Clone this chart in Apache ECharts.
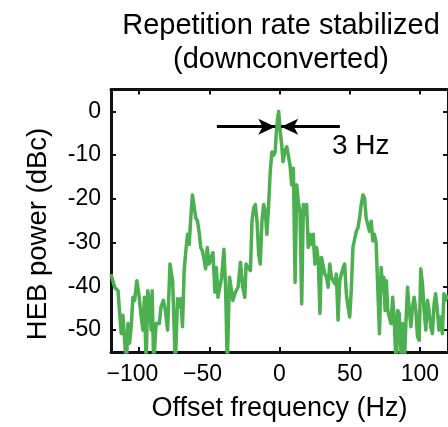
<!DOCTYPE html>
<html>
<head>
<meta charset="utf-8">
<script src="https://cdn.jsdelivr.net/npm/echarts@6/dist/echarts.min.js"></script>
<style>
html,body{margin:0;padding:0;background:#fff;}
#chart{width:448px;height:427px;}
</style>
</head>
<body>
<div id="chart"></div>
<script>
// ---- data ----
const freqHz = [-120,-117.4,-115.0,-113.8,-112.7,-111.5,-110.3,-109.1,-107.9,-106.8,-105.6,-104.4,-103.2,-101.6,-100.2,-98.5,-97.3,-96.2,-95.0,-93.8,-92.6,-91.4,-90.7,-89.6,-87.9,-85.6,-84.4,-82.7,-81.3,-79.7,-78.0,-76.1,-74.2,-72.6,-71.4,-70.2,-69.1,-67.9,-66.7,-65.5,-64.3,-63.2,-62.0,-60.8,-59.6,-58.4,-57.3,-56.1,-54.9,-53.7,-52.6,-51.4,-50.2,-49.0,-47.4,-46.0,-45.0,-43.8,-42.7,-41.2,-39.6,-38.4,-37.2,-35.6,-34.2,-33.2,-31.8,-30.9,-29.5,-27.8,-26.2,-24.7,-23.8,-22.4,-20.7,-19.6,-18.4,-17.2,-16.0,-14.8,-13.7,-12.5,-11.3,-10.1,-9.0,-7.8,-6.6,-5.4,-4.2,-3.1,-2.4,-1.4,-0.6,0.6,1.6,2.5,4.0,5.2,6.4,7.5,8.7,9.9,11.1,12.3,13.4,14.6,15.8,17.0,18.1,19.3,20.5,21.7,22.9,24.0,25.2,26.4,27.6,28.8,29.9,31.1,32.3,33.5,34.6,35.8,37.0,38.2,39.4,40.5,41.7,42.9,44.1,45.3,46.4,47.6,48.8,50.0,51.1,52.3,53.5,54.7,55.9,57.0,58.2,59.4,60.6,61.7,62.9,64.1,65.3,66.5,67.6,68.8,70.0,71.2,72.4,73.5,74.2,75.2,76.1,77.1,78.2,79.4,80.6,81.8,83.0,84.1,85.3,86.5,87.7,88.9,90.0,91.2,92.4,93.6,94.7,95.9,97.1,98.3,99.5,100.6,101.8,103.0,104.2,105.4,106.5,107.7,108.9,110.1,111.2,112.4,113.6,114.8,116.0,117.1,118.1,120];
const powerDbc = [-37.2,-40.2,-41.0,-46.2,-50.8,-46.6,-47.0,-58,-48.5,-53.0,-49.2,-42.5,-43.2,-38.7,-41.7,-47.0,-50.0,-42.5,-58,-41.0,-44.0,-50.0,-41.0,-58,-48.5,-48.5,-44.7,-43.2,-45.5,-50.0,-34.9,-38.7,-58,-42.8,-44.7,-42.8,-49.2,-36.4,-31.9,-28.1,-30.4,-24.4,-19.1,-18.7,-24.4,-25.1,-27.4,-31.1,-31.9,-33.8,-36.0,-31.1,-34.9,-34.9,-32.3,-41.3,-35.7,-42.5,-42.8,-37.9,-31.5,-40.2,-58,-37.9,-37.9,-43.2,-41.7,-41.0,-40.2,-34.5,-40.2,-42.5,-34.9,-35.7,-36.4,-25.1,-22.1,-21.3,-25.1,-32.7,-34.9,-25.1,-21.3,-22.9,-28.1,-21.7,-13.8,-9.3,-10.0,-9.3,-5.5,-1.7,0,-4.8,-7.8,-11.5,-8.9,-8.1,-8.5,-12.3,-16.8,-13.0,-39.1,-16.8,-20.6,-22.9,-44.0,-21.3,-23.6,-21.3,-31.1,-28.1,-30.4,-28.1,-34.9,-31.1,-33.8,-46.2,-33.4,-33.4,-37.2,-37.9,-40.2,-34.9,-37.9,-38.7,-39.4,-37.2,-47.7,-38.7,-38.7,-35.7,-34.9,-41.7,-44.7,-47.0,-41.0,-31.1,-31.1,-27.4,-26.6,-24.4,-21.3,-19.1,-19.8,-24.4,-25.9,-27.4,-25.1,-29.6,-28.1,-30.0,-30.4,-50.8,-35.7,-41.0,-37.9,-45.5,-38.7,-45.5,-47.0,-48.5,-42.5,-48.5,-58,-45.5,-46.2,-58,-48.5,-58,-48.5,-40.2,-45.5,-49.2,-44.7,-42.5,-45.5,-51.5,-52.3,-36.0,-39.4,-45.5,-50.0,-43.2,-45.5,-49.2,-50.8,-44.0,-41.7,-45.5,-50.0,-47.0,-50.8,-41.7,-43.2,-42.0];
const xTicks = [-100, -50, 0, 50, 100];
const yTicks = [-50, -40, -30, -20, -10, 0];
const xRange = [-120, 120];
const yRange = [-55, 5];
// linewidth annotation (data units)
const arrowY = -3.5;
const arrowLeft = [-44.6, -3.0];
const arrowRight = [43.0, 1.2];
const annotText = '3 Hz';
const annotPos = [37.0, -7.9];
const titleLines = ['Repetition rate stabilized', '(downconverted)'];
const xName = 'Offset frequency (Hz)';
const yName = 'HEB power (dBc)';

const FONT = 'Liberation Sans, Arial, sans-serif';
const FRAME = '#111';
const chart = echarts.init(document.getElementById('chart'), null, {renderer: 'canvas'});

const seriesData = freqHz.map((f, i) => [f, powerDbc[i]]);

const option = {
  animation: false,
  backgroundColor: '#fff',
  title: {
    text: titleLines.join('\n'),
    left: 281,
    top: 9,
    padding: 0,
    textAlign: 'center',
    textStyle: {fontFamily: FONT, fontSize: 29, fontWeight: 'normal', color: '#000', lineHeight: 34}
  },
  graphic: [{
    type: 'text',
    x: 38, y: 234,
    rotation: Math.PI / 2,
    silent: true,
    style: {text: yName, fontFamily: FONT, fontSize: 27.5, fill: '#000', align: 'center', verticalAlign: 'middle'}
  }],
  grid: {left: 111, top: 89.5, width: 340, height: 265.5, containLabel: false},
  xAxis: [{
    type: 'value', position: 'bottom', min: xRange[0], max: xRange[1],
    name: xName, nameLocation: 'middle', nameGap: 43,
    nameTextStyle: {fontFamily: FONT, fontSize: 27, color: '#000'},
    axisLine: {show: true, onZero: false, lineStyle: {color: FRAME, width: 3}},
    axisTick: {show: true, inside: true, length: 5, lineStyle: {color: FRAME, width: 2}, customValues: xTicks},
    axisLabel: {
      show: true, margin: 11, fontFamily: FONT, fontSize: 23, color: '#000', customValues: xTicks,
      formatter: v => v < 0 ? '\u2212' + Math.abs(v) + '{h|\u2212}' : String(v),
      rich: {h: {fontFamily: FONT, fontSize: 23, color: 'rgba(0,0,0,0)'}}
    },
    splitLine: {show: false}
  }, {
    type: 'value', position: 'top', min: xRange[0], max: xRange[1],
    axisLine: {show: true, onZero: false, lineStyle: {color: FRAME, width: 3}},
    axisTick: {show: true, inside: true, length: 5, lineStyle: {color: FRAME, width: 2}, customValues: xTicks},
    axisLabel: {show: false},
    splitLine: {show: false}
  }],
  yAxis: [{
    type: 'value', position: 'left', min: yRange[0], max: yRange[1],
    axisLine: {show: true, onZero: false, lineStyle: {color: FRAME, width: 3}},
    axisTick: {show: true, inside: true, length: 5, lineStyle: {color: FRAME, width: 2}, customValues: yTicks},
    axisLabel: {show: true, margin: 10, fontFamily: FONT, fontSize: 23, color: '#000', customValues: yTicks,
      formatter: v => String(v)},
    splitLine: {show: false}
  }, {
    type: 'value', position: 'right', min: yRange[0], max: yRange[1],
    axisLine: {show: true, onZero: false, lineStyle: {color: FRAME, width: 3}},
    axisTick: {show: true, inside: true, length: 5, lineStyle: {color: FRAME, width: 2}, customValues: yTicks},
    axisLabel: {show: false},
    splitLine: {show: false}
  }],
  series: [{
    type: 'line',
    data: seriesData,
    xAxisIndex: 0, yAxisIndex: 0,
    showSymbol: false, symbol: 'none',
    clip: true,
    lineStyle: {color: '#4CAF50', width: 3.5, join: 'round'},
    itemStyle: {color: '#4CAF50'},
    emphasis: {disabled: true},
    silent: true,
    markLine: {
      silent: true,
      symbol: ['none', 'arrow'],
      symbolSize: [12, 17],
      label: {show: false},
      emphasis: {disabled: true},
      lineStyle: {color: '#000', width: 3, type: 'solid'},
      data: [
        [{coord: [arrowLeft[0], arrowY]}, {coord: [arrowLeft[1], arrowY]}],
        [{coord: [arrowRight[0], arrowY]}, {coord: [arrowRight[1], arrowY]}]
      ]
    },
    markPoint: {
      silent: true,
      symbol: 'rect', symbolSize: 1,
      itemStyle: {color: 'rgba(0,0,0,0)'},
      label: {show: true, position: 'right', distance: 0, formatter: annotText,
        fontFamily: FONT, fontSize: 28, color: '#000'},
      data: [{coord: annotPos}]
    }
  }]
};
chart.setOption(option);
</script>
</body>
</html>
